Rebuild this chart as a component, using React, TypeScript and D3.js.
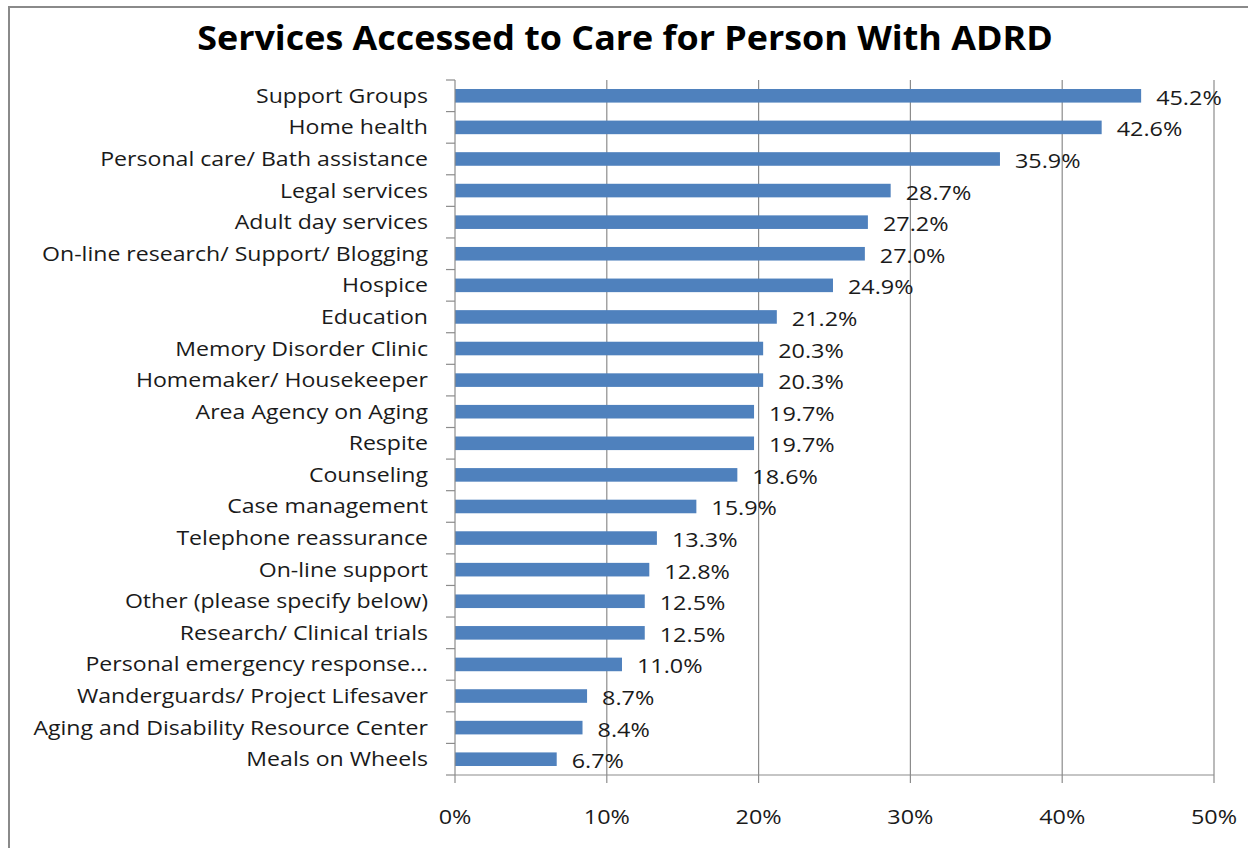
import React, { useEffect, useRef } from 'react';
import * as d3 from 'd3';

const categories = [
  'Support Groups',
  'Home health',
  'Personal care/ Bath assistance',
  'Legal services',
  'Adult day services',
  'On-line research/ Support/ Blogging',
  'Hospice',
  'Education',
  'Memory Disorder Clinic',
  'Homemaker/ Housekeeper',
  'Area Agency on Aging',
  'Respite',
  'Counseling',
  'Case management',
  'Telephone reassurance',
  'On-line support',
  'Other (please specify below)',
  'Research/ Clinical trials',
  'Personal emergency response…',
  'Wanderguards/ Project Lifesaver',
  'Aging and Disability Resource Center',
  'Meals on Wheels',
];

const values = [
  45.2, 42.6, 35.9, 28.7, 27.2, 27.0, 24.9, 21.2, 20.3, 20.3, 19.7, 19.7, 18.6, 15.9, 13.3, 12.8,
  12.5, 12.5, 11.0, 8.7, 8.4, 6.7,
];

const xTicks = [0, 10, 20, 30, 40, 50];

const title = 'Services Accessed to Care for Person With ADRD';

const App: React.FC = () => {
  const svgRef = useRef<SVGSVGElement | null>(null);

  useEffect(() => {
    const width = 1256;
    const height = 848;
    const margin = { top: 80, right: 42, bottom: 73, left: 455 };
    const font = '"Open Sans", sans-serif';
    const gridColor = '#8c8c8c';
    const textColor = '#1a1a1a';
    const stretch = 1.17; // the original text is a bit wider than Open Sans
    const labelStretch = 1.155;

    const svg = d3.select(svgRef.current).attr('width', width).attr('height', height);
    svg.selectAll('*').remove();

    svg.append('rect').attr('width', width).attr('height', height).attr('fill', '#fff');

    // chart frame (left + top edges only, the rest is cropped)
    svg
      .append('path')
      .attr('d', `M9,${height} V7 H1248`)
      .attr('fill', 'none')
      .attr('stroke', '#8a8a8a')
      .attr('stroke-width', 2);

    svg
      .append('text')
      .attr('transform', `translate(625,38) scale(1.055,1)`)
      .attr('dy', '0.35em')
      .attr('text-anchor', 'middle')
      .style('font-family', font)
      .style('font-weight', 'bold')
      .style('font-size', '34px')
      .attr('fill', '#000')
      .text(title);

    const x = d3
      .scaleLinear()
      .domain([0, 50])
      .range([margin.left, width - margin.right]);

    const y = d3
      .scaleBand<string>()
      .domain(categories)
      .range([margin.top, height - margin.bottom])
      .paddingInner(0.57)
      .paddingOuter(0.285);

    const band = d3
      .scaleBand<string>()
      .domain(categories)
      .range([margin.top, height - margin.bottom]);

    const g = svg.append('g');

    // vertical gridlines
    g.selectAll('.grid')
      .data(xTicks.slice(1))
      .enter()
      .append('line')
      .attr('x1', d => x(d))
      .attr('x2', d => x(d))
      .attr('y1', margin.top)
      .attr('y2', height - margin.bottom)
      .attr('stroke', gridColor)
      .attr('stroke-width', 1.2);

    // bars
    g.selectAll('.bar')
      .data(values)
      .enter()
      .append('rect')
      .attr('x', x(0))
      .attr('y', (d, i) => y(categories[i])!)
      .attr('width', d => x(d) - x(0))
      .attr('height', y.bandwidth())
      .attr('fill', '#4f81bd');

    // value labels
    g.selectAll('.val')
      .data(values)
      .enter()
      .append('text')
      .attr(
        'transform',
        (d, i) => `translate(${x(d) + 15},${y(categories[i])! + y.bandwidth() / 2 + 2}) scale(${stretch},1)`
      )
      .attr('dy', '0.35em')
      .style('font-family', font)
      .style('font-size', '20px')
      .attr('fill', textColor)
      .text(d => `${d.toFixed(1)}%`);

    // y axis
    const yAxis = g.append('g');
    yAxis
      .append('line')
      .attr('x1', x(0))
      .attr('x2', x(0))
      .attr('y1', margin.top)
      .attr('y2', height - margin.bottom)
      .attr('stroke', gridColor)
      .attr('stroke-width', 1.2);
    const ends = categories.map(c => band(c)!).concat([height - margin.bottom]);
    yAxis
      .selectAll('.ytick')
      .data(ends)
      .enter()
      .append('line')
      .attr('x1', x(0) - 9)
      .attr('x2', x(0))
      .attr('y1', d => d)
      .attr('y2', d => d)
      .attr('stroke', gridColor)
      .attr('stroke-width', 1.2);
    yAxis
      .selectAll('.ylab')
      .data(categories)
      .enter()
      .append('text')
      .attr('transform', d => `translate(428,${band(d)! + band.bandwidth() / 2}) scale(${labelStretch},1)`)
      .attr('dy', '0.35em')
      .attr('text-anchor', 'end')
      .style('font-family', font)
      .style('font-size', '20px')
      .attr('fill', textColor)
      .text(d => d);

    // x axis
    const xAxis = g.append('g');
    xAxis
      .append('line')
      .attr('x1', x(0))
      .attr('x2', x(50))
      .attr('y1', height - margin.bottom)
      .attr('y2', height - margin.bottom)
      .attr('stroke', gridColor)
      .attr('stroke-width', 1.2);
    xAxis
      .selectAll('.xtick')
      .data(xTicks)
      .enter()
      .append('line')
      .attr('x1', d => x(d))
      .attr('x2', d => x(d))
      .attr('y1', height - margin.bottom)
      .attr('y2', height - margin.bottom + 8)
      .attr('stroke', gridColor)
      .attr('stroke-width', 1.2);
    xAxis
      .selectAll('.xlab')
      .data(xTicks)
      .enter()
      .append('text')
      .attr('transform', d => `translate(${x(d)},817) scale(${stretch},1)`)
      .attr('dy', '0.35em')
      .attr('text-anchor', 'middle')
      .style('font-family', font)
      .style('font-size', '20px')
      .attr('fill', textColor)
      .text(d => `${d}%`);
  }, []);

  return <svg ref={svgRef} style={{ position: 'absolute', left: 0, top: 0, display: 'block' }}></svg>;
};

export default App;
